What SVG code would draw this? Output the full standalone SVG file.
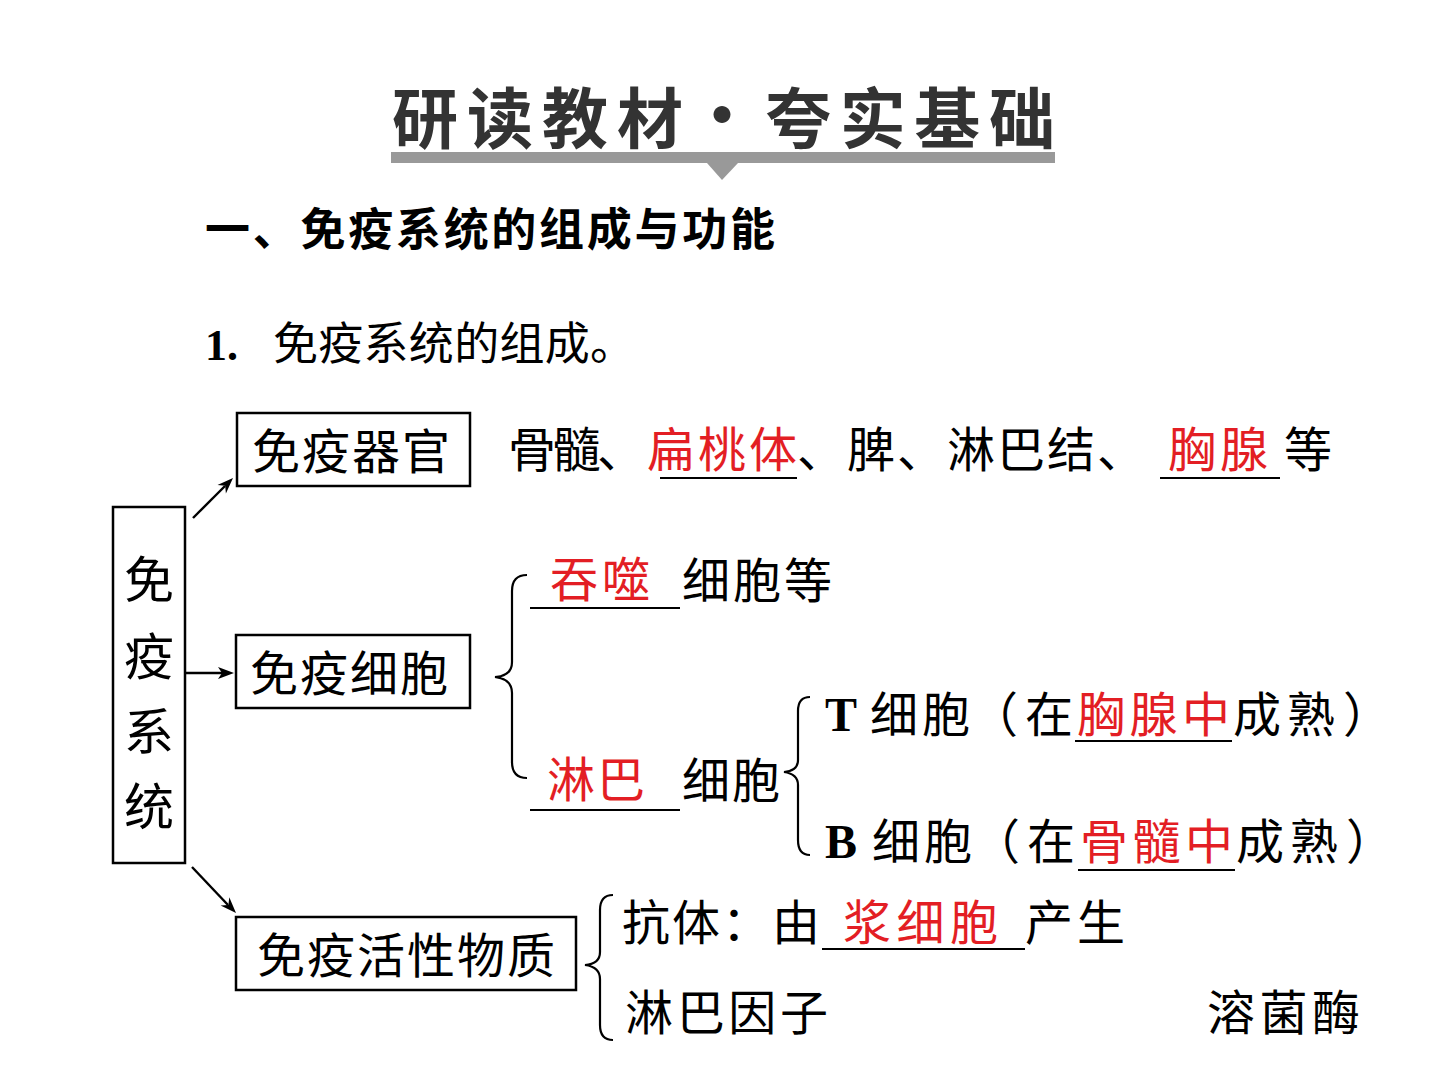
<svg xmlns="http://www.w3.org/2000/svg" width="1440" height="1080" viewBox="0 0 1440 1080">
<style>
.t{font-family:"Liberation Serif","Noto Sans CJK SC",serif;font-size:48px;fill:#000}
.r{fill:#e31e24}
.bx{fill:#fff;stroke:#000;stroke-width:2.5}
.ul{stroke:#000;stroke-width:2}
.br{fill:none;stroke:#000;stroke-width:2.2}
.ar{stroke:#000;stroke-width:2.4;fill:none}
.ah{fill:#000}
.ttl{font-family:"Noto Sans CJK SC",sans-serif;font-weight:700;font-size:66px;fill:#333}
.h{font-family:"Noto Sans CJK SC",sans-serif;font-weight:700;font-size:45px;fill:#000}
</style>
<rect width="1440" height="1080" fill="#fff"/>

<g id="title">
<text class="ttl" x="392" y="143" textLength="291">研读教材</text>
<text class="ttl" x="722" y="140" text-anchor="middle">·</text>
<text class="ttl" x="765" y="143" textLength="290">夸实基础</text>
<rect x="391" y="152" width="664" height="11" fill="#999"/>
<path d="M707,163 L738,163 L722,180 Z" fill="#999"/>
</g>

<g id="heading">
<text class="h" x="205" y="246" textLength="570">一、免疫系统的组成与功能</text>
<text x="205" y="360" style="font-family:'Liberation Serif',serif;font-weight:700;font-size:44px">1.</text>
<text class="t" x="273" y="360" style="font-size:45px" textLength="362">免疫系统的组成。</text>
</g>

<g id="node-system">
<rect class="bx" x="113" y="507" width="72" height="356"/>
<text class="t" x="149" y="598" text-anchor="middle" style="font-size:50px">免</text>
<text class="t" x="149" y="675" text-anchor="middle" style="font-size:50px">疫</text>
<text class="t" x="149" y="750" text-anchor="middle" style="font-size:50px">系</text>
<text class="t" x="149" y="825" text-anchor="middle" style="font-size:50px">统</text>
</g>

<g id="node-organ">
<rect class="bx" x="237" y="413" width="233" height="73"/>
<text class="t" x="252" y="469" textLength="198">免疫器官</text>
</g>

<g id="node-cell">
<rect class="bx" x="236" y="635" width="234" height="73"/>
<text class="t" x="250" y="691" textLength="198">免疫细胞</text>
</g>

<g id="node-active">
<rect class="bx" x="236" y="917" width="340" height="73"/>
<text class="t" x="257" y="973" textLength="298">免疫活性物质</text>
</g>

<g id="connectors">
<path class="ar" d="M193,518 L225,486"/>
<path class="ah" d="M233,478 L225.9,493.5 L225.2,485.8 L217.5,485.1 Z"/>
<path class="ar" d="M186,673 L222,673"/>
<path class="ah" d="M234,673 L218,679 L222,673 L218,667 Z"/>
<path class="ar" d="M192,867 L228,905"/>
<path class="ah" d="M236,913 L220.6,905.6 L228.4,905 L229.3,897.3 Z"/>
<path class="br" d="M527,575 Q512,575 512,591 L512,662 Q512,676 495,677 Q512,679 512,693 L512,762 Q512,778 527,778"/>
<path class="br" d="M810,697 Q798,697 798,711 L798,760 Q798,771 784,772 Q798,774 798,785 L798,840 Q798,855 810,855"/>
<path class="br" d="M613,895 Q600,895 600,910 L600,952 Q600,964 585,965 Q600,967 600,979 L600,1025 Q600,1040 613,1040"/>
</g>

<g id="row-organ">
<text class="t" x="508" y="467" textLength="137">骨髓、</text>
<text class="t r" x="647" y="467" textLength="150">扁桃体</text>
<text class="t" x="797" y="467" textLength="348">、脾、淋巴结、</text>
<text class="t r" x="1168" y="467" textLength="100">胸腺</text>
<text class="t" x="1284" y="467">等</text>
<line class="ul" x1="660" y1="478" x2="797" y2="478"/>
<line class="ul" x1="1160" y1="478" x2="1280" y2="478"/>
</g>

<g id="row-cells">
<text class="t r" x="550" y="597" textLength="100">吞噬</text>
<text class="t" x="682" y="598" textLength="150">细胞等</text>
<line class="ul" x1="530" y1="608" x2="680" y2="608"/>
<text class="t r" x="547" y="797" textLength="98">淋巴</text>
<text class="t" x="682" y="798" textLength="98">细胞</text>
<line class="ul" x1="530" y1="810" x2="680" y2="810"/>
</g>

<g id="row-tb">
<text x="825" y="731" style="font-family:'Liberation Serif',serif;font-weight:700;font-size:48px">T</text>
<text class="t" x="870" y="732" textLength="100">细胞</text>
<text class="t" x="970" y="732">（</text>
<text class="t" x="1025" y="732">在</text>
<text class="t r" x="1077" y="732" textLength="153">胸腺中</text>
<text class="t" x="1233" y="732" textLength="102">成熟</text>
<text class="t" x="1343" y="732">）</text>
<line class="ul" x1="1075" y1="741" x2="1232" y2="741"/>
<text x="825" y="858" style="font-family:'Liberation Serif',serif;font-weight:700;font-size:48px">B</text>
<text class="t" x="872" y="859" textLength="100">细胞</text>
<text class="t" x="972" y="859">（</text>
<text class="t" x="1027" y="859">在</text>
<text class="t r" x="1080" y="859" textLength="153">骨髓中</text>
<text class="t" x="1236" y="859" textLength="102">成熟</text>
<text class="t" x="1346" y="859">）</text>
<line class="ul" x1="1078" y1="870" x2="1235" y2="870"/>
</g>

<g id="row-active">
<text class="t" x="622" y="940" textLength="198">抗体：由</text>
<text class="t r" x="843" y="940" textLength="155">浆细胞</text>
<line class="ul" x1="822" y1="949" x2="1025" y2="949"/>
<text class="t" x="1025" y="940" textLength="100">产生</text>
<text class="t" x="625" y="1030" textLength="203">淋巴因子</text>
<text class="t" x="1207" y="1030" textLength="153">溶菌酶</text>
</g>
</svg>
